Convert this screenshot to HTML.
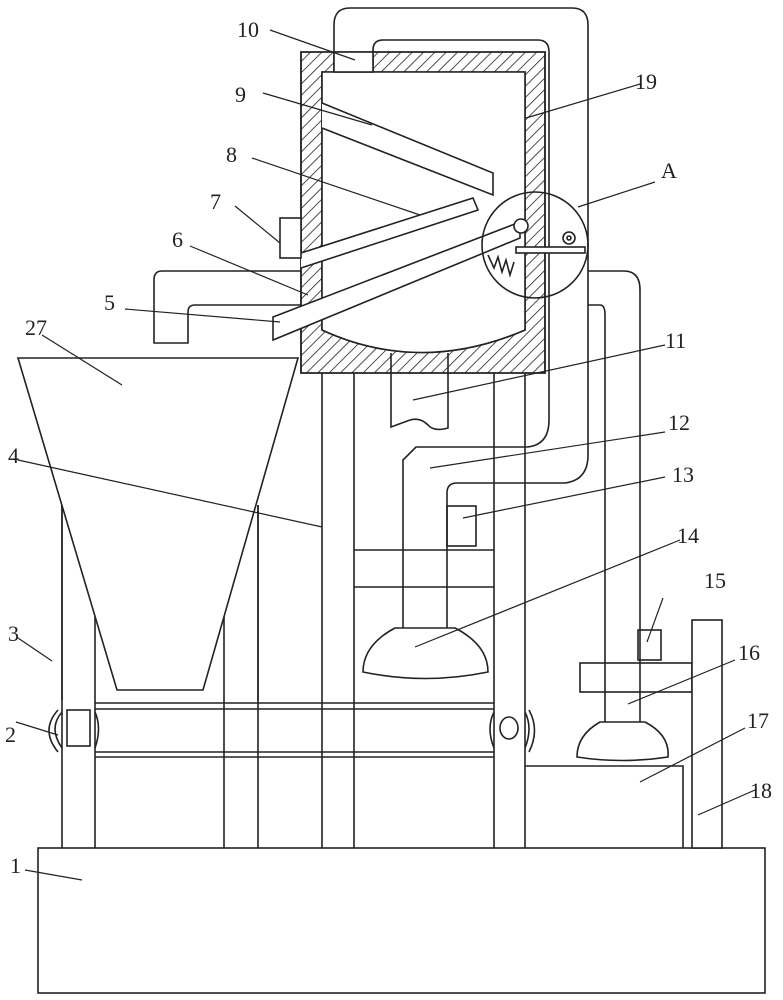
<!DOCTYPE html>
<html><head><meta charset="utf-8"><style>
html,body{margin:0;padding:0;background:#fff;}
svg{display:block;}
text{font-family:"Liberation Serif",serif;font-size:22px;fill:#222;}
</style></head><body>
<svg width="783" height="1000" viewBox="0 0 783 1000" xmlns="http://www.w3.org/2000/svg">
<defs>
<pattern id="h" patternUnits="userSpaceOnUse" width="8" height="8" patternTransform="rotate(45)">
<line x1="0" y1="0" x2="0" y2="8" stroke="#222" stroke-width="1.6"/>
</pattern>
</defs>
<g fill="none" stroke="#222" stroke-width="1.6">
<rect x="38" y="848" width="727" height="145" fill="#fff"/>
<line x1="62" y1="505" x2="62" y2="848"/><line x1="95" y1="615" x2="95" y2="848"/>
<line x1="224" y1="615" x2="224" y2="848"/><line x1="258" y1="505" x2="258" y2="848"/>
<path d="M18,358 H298 L203,690 H117 Z" fill="#fff"/>
<line x1="62" y1="505" x2="62" y2="700"/><line x1="258" y1="505" x2="258" y2="700"/>
<line x1="95" y1="703" x2="494" y2="703"/><line x1="95" y1="709" x2="494" y2="709"/>
<line x1="95" y1="752" x2="494" y2="752"/><line x1="95" y1="757" x2="494" y2="757"/>
<path d="M62,712 Q48,728 62,748 M58,710 Q40,730 58,752"/>
<rect x="67" y="710" width="23" height="36"/>
<path d="M95,712 Q102,728 95,748"/>
<path d="M494,712 Q486,728 494,748 M525,712 Q533,728 525,748 M529,710 Q540,730 529,752"/>
<ellipse cx="509" cy="728" rx="9" ry="11"/>
<line x1="322" y1="373" x2="322" y2="848"/><line x1="354" y1="373" x2="354" y2="848"/>
<line x1="494" y1="373" x2="494" y2="848"/><line x1="525" y1="373" x2="525" y2="848"/>
<line x1="354" y1="550" x2="494" y2="550"/><line x1="354" y1="587" x2="494" y2="587"/>
<path d="M334,52 V25 Q334,8 350,8 H572 Q588,8 588,25 V455"/>
<path d="M373,52 V50 Q373,40 383,40 H538 Q549,40 549,52 V420"/>
<path d="M403,628 V460 L416,447 H527 Q549,445 549,420"/>
<path d="M447,628 V493 Q447,483 457,483 H565 Q588,480 588,455"/>
<rect x="447" y="506" width="29" height="40"/>
<path d="M395,628 H455 Q488,645 488,672 Q425,685 363,672 Q363,645 395,628 Z" fill="#fff"/>
<path d="M391,353 V427 L410,420 Q420,417 428,425 Q434,432 448,428 V353"/>
<path fill-rule="evenodd" fill="url(#h)" d="M301,52 H334 V72 H373 V52 H545 V373 H301 Z M322,72 V330 Q420,375 525,330 V72 Z"/>
<path d="M301,52 H545 V373 H301 Z"/>
<path d="M322,72 H525 V330 Q420,375 322,330 Z" fill="#fff"/>
<rect x="334" y="52" width="39" height="20" fill="#fff"/>
<path d="M322,103 L493,173 V195 L322,128" fill="#fff"/>
<path d="M301,253 L473,198 L478,210 L301,268" fill="#fff"/>
<path d="M273,317 L520,222 L520,238 L273,340 Z" fill="#fff"/>
<rect x="280" y="218" width="21" height="40" fill="#fff"/>
<path d="M301,271 H162 Q154,271 154,280 V343 H188 V312 Q188,305 195,305 H301"/>
<circle cx="535" cy="245" r="53"/>
<circle cx="521" cy="226" r="7" fill="#fff"/>
<rect x="516" y="247" width="69" height="6" fill="#fff"/>
<circle cx="569" cy="238" r="6"/><circle cx="569" cy="238" r="2"/>
<path d="M488,255 L494,268 L498,257 L502,272 L506,260 L510,275 L514,262"/>
<path d="M588,271 H624 Q640,271 640,290 V722"/>
<path d="M588,305 H600 Q605,305 605,315 V722"/>
<path d="M600,722 H645 Q670,735 668,757 Q622,764 577,757 Q577,735 600,722 Z" fill="#fff"/>
<rect x="638" y="630" width="23" height="30"/>
<rect x="580" y="663" width="112" height="29"/>
<rect x="692" y="620" width="30" height="228" fill="#fff"/>
<path d="M525,766 H683 V848"/>
</g>
<g stroke="#222" stroke-width="1.2" fill="none">
<line x1="270" y1="30" x2="355" y2="60"/>
<line x1="263" y1="93" x2="372" y2="125"/>
<line x1="252" y1="158" x2="420" y2="215"/>
<line x1="235" y1="206" x2="280" y2="243"/>
<line x1="190" y1="246" x2="308" y2="295"/>
<line x1="125" y1="309" x2="280" y2="322"/>
<line x1="42" y1="335" x2="122" y2="385"/>
<line x1="18" y1="460" x2="322" y2="527"/>
<line x1="18" y1="638" x2="52" y2="661"/>
<line x1="16" y1="722" x2="58" y2="735"/>
<line x1="25" y1="870" x2="82" y2="880"/>
<line x1="640" y1="84" x2="526" y2="118"/>
<line x1="655" y1="182" x2="578" y2="207"/>
<line x1="665" y1="345" x2="413" y2="400"/>
<line x1="665" y1="432" x2="430" y2="468"/>
<line x1="665" y1="477" x2="463" y2="518"/>
<line x1="680" y1="540" x2="415" y2="647"/>
<line x1="663" y1="598" x2="647" y2="642"/>
<line x1="735" y1="660" x2="628" y2="704"/>
<line x1="745" y1="728" x2="640" y2="782"/>
<line x1="755" y1="790" x2="698" y2="815"/>
</g>
<text x="237" y="37">10</text>
<text x="235" y="102">9</text>
<text x="226" y="162">8</text>
<text x="210" y="209">7</text>
<text x="172" y="247">6</text>
<text x="104" y="310">5</text>
<text x="25" y="335">27</text>
<text x="8" y="463">4</text>
<text x="8" y="641">3</text>
<text x="5" y="742">2</text>
<text x="10" y="873">1</text>
<text x="635" y="89">19</text>
<text x="661" y="178">A</text>
<text x="665" y="348">11</text>
<text x="668" y="430">12</text>
<text x="672" y="482">13</text>
<text x="677" y="543">14</text>
<text x="704" y="588">15</text>
<text x="738" y="660">16</text>
<text x="747" y="728">17</text>
<text x="750" y="798">18</text>
</svg>
</body></html>
